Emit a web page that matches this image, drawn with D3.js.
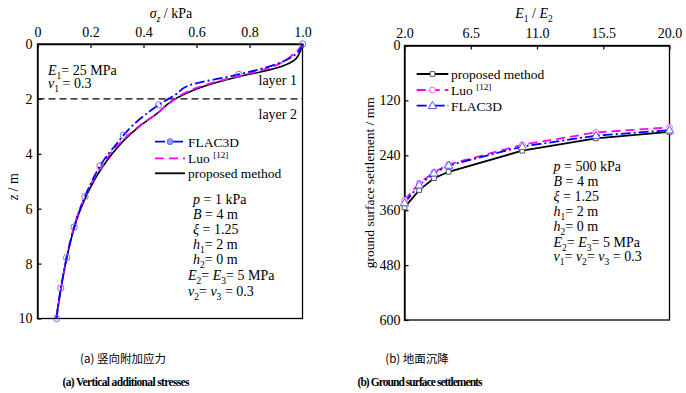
<!DOCTYPE html>
<html>
<head>
<meta charset="utf-8">
<script src="https://cdn.jsdelivr.net/npm/d3@7"></script>
<style>
  body { margin: 0; background: #fff; }
  svg text { font-family: "Liberation Serif", serif; }
</style>
</head>
<body>
<div class="canvas"></div>
<script>
// (a) vertical additional stress sigma_z (kPa) against depth z (m)
const stressTicks = [0, 0.2, 0.4, 0.6, 0.8, 1.0];
const depthTicks = [0, 2, 4, 6, 8, 10];

const propZ = [0, 0.2, 0.4, 0.6, 0.8, 1.0, 1.2, 1.4, 1.6, 1.8, 2.0, 2.2, 2.5, 3.0, 3.5, 4.0, 4.5, 5.0, 6.0, 7.0, 8.0, 9.0, 10.0];
const propS = [1.0, 0.994, 0.985, 0.968, 0.925, 0.85, 0.755, 0.675, 0.61, 0.56, 0.52, 0.49, 0.455, 0.385, 0.327, 0.282, 0.244, 0.212, 0.163, 0.13, 0.106, 0.087, 0.07];

const luoZ = [0, 0.2, 0.4, 0.6, 0.8, 1.0, 1.2, 1.4, 1.6, 1.8, 2.0, 2.2, 2.5, 3.0, 3.5, 4.0, 4.5, 5.0, 6.0, 7.0, 8.0, 9.0, 10.0];
const luoS = [1.0, 0.985, 0.962, 0.935, 0.895, 0.83, 0.745, 0.665, 0.6, 0.553, 0.52, 0.492, 0.455, 0.382, 0.322, 0.275, 0.238, 0.208, 0.16, 0.128, 0.105, 0.087, 0.07];

// FLAC3D output, a marker on every third point
const flacZ = [0, 0.37, 0.74, 1.11, 1.48, 1.85, 2.22, 2.59, 2.96, 3.33, 3.70, 4.07, 4.44, 4.81, 5.19, 5.56, 5.93, 6.30, 6.67, 7.04, 7.41, 7.78, 8.15, 8.52, 8.89, 9.26, 9.63, 10.0];
const flacS = [1.0, 0.975, 0.9, 0.76, 0.58, 0.52, 0.457, 0.405, 0.36, 0.324, 0.293, 0.262, 0.236, 0.215, 0.196, 0.179, 0.164, 0.15, 0.138, 0.128, 0.119, 0.11, 0.102, 0.095, 0.088, 0.082, 0.077, 0.072];

// (b) ground surface settlement (mm) against E1/E2
const ratio = [2, 3, 4, 5, 10, 15, 20];
const settleProp = [354, 316, 290, 276, 230, 203, 189];
const settleLuo = [338, 301, 277, 260, 217, 190, 179];
const settleFlac = [344, 305, 279, 262, 221, 197, 185];
const ratioTicks = [2, 6.5, 11, 15.5, 20];
const settleTicks = [0, 120, 240, 360, 480, 600];

const serif = '"Liberation Serif", serif';

const svg = d3.select('.canvas')
  .append('svg')
    .attr('width', 686)
    .attr('height', 393)
    .attr('font-family', serif);

// text with italic / sub / sup parts: '' plain, 'i' italic, 'b' subscript, 'p' superscript
function rich(g, x, y, parts, size, anchor) {
  const t = g.append('text')
    .attr('x', x).attr('y', y)
    .attr('font-size', size)
    .attr('font-family', serif)
    .attr('text-anchor', anchor || 'start');
  let shift = 0;
  parts.forEach(([s, st]) => {
    const sp = t.append('tspan').text(s);
    let target = 0;
    if (st.includes('b')) target = size * 0.28;
    if (st.includes('p')) target = -size * 0.4;
    if (target !== shift) { sp.attr('dy', target - shift); shift = target; }
    if (st.includes('b') || st.includes('p')) sp.attr('font-size', size * 0.68);
    if (st.includes('i')) sp.attr('font-style', 'italic');
  });
  return t;
}

function styleAxis(a) {
  a.attr('font-family', serif).attr('font-size', 14);
  a.select('.domain').attr('stroke-width', 1.3);
  a.selectAll('.tick line').attr('stroke-width', 1.2);
}

function frame(g, x, y) {
  g.append('rect')
    .attr('x', x.range()[0])
    .attr('y', y.range()[0])
    .attr('width', x.range()[1] - x.range()[0])
    .attr('height', y.range()[1] - y.range()[0])
    .attr('fill', 'none')
    .attr('stroke', '#000')
    .attr('stroke-width', 1.3);
}

// ---------- chart (a) ----------
const xA = d3.scaleLinear().domain([0, 1]).range([37.5, 302.5]);
const yA = d3.scaleLinear().domain([0, 10]).range([44, 318.5]);
const ga = svg.append('g');

frame(ga, xA, yA);

ga.append('g')
  .attr('transform', `translate(0,${yA(0)})`)
  .call(d3.axisTop(xA).tickValues(stressTicks)
    .tickFormat(d => d === 0 ? '0' : d.toFixed(1))
    .tickSizeInner(-4).tickSizeOuter(0).tickPadding(7))
  .call(styleAxis);

ga.append('g')
  .attr('transform', `translate(${xA(0)},0)`)
  .call(d3.axisLeft(yA).tickValues(depthTicks)
    .tickSizeInner(-4).tickSizeOuter(0).tickPadding(5))
  .call(styleAxis);

rich(ga, 171, 18, [['σ', 'i'], ['z', 'ib'], [' / kPa', '']], 14, 'middle');
rich(ga, 0, 0, [['z', 'i'], [' / m', '']], 14, 'middle')
  .attr('transform', `translate(18,${yA(5.2)}) rotate(-90)`);

// layer boundary
ga.append('line')
  .attr('x1', xA(0)).attr('x2', xA(1))
  .attr('y1', yA(2)).attr('y2', yA(2))
  .attr('stroke', '#000').attr('stroke-width', 1.3)
  .attr('stroke-dasharray', '7,4');

ga.append('text').attr('x', 297).attr('y', 85).attr('text-anchor', 'end')
  .attr('font-size', 14).text('layer 1');
ga.append('text').attr('x', 297).attr('y', 119).attr('text-anchor', 'end')
  .attr('font-size', 14).text('layer 2');

rich(ga, 48, 75, [['E', 'i'], ['1', 'b'], ['= 25 MPa', '']], 14);
rich(ga, 48, 88, [['ν', 'i'], ['1', 'b'], [' = 0.3', '']], 14);

const lineA = d3.line()
  .x(d => xA(d[1]))
  .y(d => yA(d[0]))
  .curve(d3.curveMonotoneY);

ga.append('path')
  .datum(d3.zip(propZ, propS))
  .attr('d', lineA)
  .attr('fill', 'none').attr('stroke', '#000').attr('stroke-width', 1.6);

ga.append('path')
  .datum(d3.zip(luoZ, luoS))
  .attr('d', lineA)
  .attr('fill', 'none').attr('stroke', '#ff00ff').attr('stroke-width', 1.8)
  .attr('stroke-dasharray', '9,5');

ga.append('path')
  .datum(d3.zip(flacZ, flacS))
  .attr('d', lineA)
  .attr('fill', 'none').attr('stroke', '#0000ff').attr('stroke-width', 1.8)
  .attr('stroke-dasharray', '10,3,2,3');

ga.selectAll('circle.flac')
  .data(d3.zip(flacZ, flacS).filter((d, i) => i % 3 === 0))
  .enter()
  .append('circle')
    .attr('class', 'flac')
    .attr('cx', d => xA(d[1]))
    .attr('cy', d => yA(d[0]))
    .attr('r', 3.2)
    .attr('fill', 'none')
    .attr('stroke', '#7070ff')
    .attr('stroke-width', 1);

// legend (a)
const legA = [
  { y: 141.7, label: [['FLAC3D', '']], color: '#0000ff', dash: '10,3,2,3', mark: true },
  { y: 158.3, label: [['Luo ', ''], ['[12]', 'p']], color: '#ff00ff', dash: '9,5' },
  { y: 173.3, label: [['proposed method', '']], color: '#000', dash: null }
];
legA.forEach(l => {
  ga.append('line')
    .attr('x1', 155).attr('x2', 185).attr('y1', l.y).attr('y2', l.y)
    .attr('stroke', l.color).attr('stroke-width', 1.8)
    .attr('stroke-dasharray', l.dash);
  if (l.mark) {
    ga.append('circle').attr('cx', 170).attr('cy', l.y).attr('r', 3)
      .attr('fill', '#9090ff').attr('stroke', '#7070ff');
  }
  rich(ga, 188, l.y + 5, l.label, 13.5);
});

const paramsA = [
  [['p', 'i'], [' = 1 kPa', '']],
  [['B', 'i'], [' = 4 m', '']],
  [['ξ', 'i'], [' = 1.25', '']],
  [['h', 'i'], ['1', 'b'], ['= 2 m', '']],
  [['h', 'i'], ['2', 'b'], ['= 0 m', '']],
  [['E', 'i'], ['2', 'b'], ['= ', ''], ['E', 'i'], ['3', 'b'], ['= 5 MPa', '']],
  [['ν', 'i'], ['2', 'b'], ['= ', ''], ['ν', 'i'], ['3', 'b'], [' = 0.3', '']]
];
const paramsAY = [204, 219, 234, 249, 264, 280, 296];
paramsA.forEach((p, i) => rich(ga, i >= 5 ? 188 : 193, paramsAY[i], p, 14));

// ---------- chart (b) ----------
const xB = d3.scaleLinear().domain([2, 20]).range([404.5, 669.5]);
const yB = d3.scaleLinear().domain([0, 600]).range([45.5, 320]);
const gb = svg.append('g');

frame(gb, xB, yB);

gb.append('g')
  .attr('transform', `translate(0,${yB(0)})`)
  .call(d3.axisTop(xB).tickValues(ratioTicks)
    .tickFormat(d3.format('.1f'))
    .tickSizeInner(-4).tickSizeOuter(0).tickPadding(8))
  .call(styleAxis);

gb.append('g')
  .attr('transform', `translate(${xB(2)},0)`)
  .call(d3.axisLeft(yB).tickValues(settleTicks)
    .tickSizeInner(-4).tickSizeOuter(0).tickPadding(4))
  .call(styleAxis);

rich(gb, 534, 18, [['E', 'i'], ['1', 'b'], [' / ', ''], ['E', 'i'], ['2', 'b']], 14, 'middle');
gb.append('text')
  .attr('transform', `translate(374,${yB(300)}) rotate(-90)`)
  .attr('text-anchor', 'middle')
  .attr('font-size', 13.5)
  .text('ground surface settlement / mm');

const lineB = d3.line()
  .x(d => xB(d[0]))
  .y(d => yB(d[1]));

const seriesB = [
  { vals: settleProp, color: '#000', dash: null, shape: 'square', mcolor: '#555' },
  { vals: settleLuo, color: '#ff00ff', dash: '9,5', shape: 'circle', mcolor: '#ff55ff' },
  { vals: settleFlac, color: '#0000ff', dash: '10,3,2,3', shape: 'triangle', mcolor: '#5555ff' }
];

function marker(g, shape, x, y, color) {
  const sym = shape === 'square' ? d3.symbolSquare : shape === 'circle' ? d3.symbolCircle : d3.symbolTriangle;
  const size = shape === 'triangle' ? 30 : shape === 'square' ? 22 : 26;
  g.append('path')
    .attr('d', d3.symbol().type(sym).size(size)())
    .attr('transform', `translate(${x},${y + (shape === 'triangle' ? 0.5 : 0)})`)
    .attr('fill', '#fff')
    .attr('stroke', color)
    .attr('stroke-width', 1);
}

seriesB.forEach(s => {
  gb.append('path')
    .datum(d3.zip(ratio, s.vals))
    .attr('d', lineB)
    .attr('fill', 'none')
    .attr('stroke', s.color)
    .attr('stroke-width', 1.8)
    .attr('stroke-dasharray', s.dash);
});
seriesB.forEach(s => {
  d3.zip(ratio, s.vals).forEach(d => marker(gb, s.shape, xB(d[0]), yB(d[1]), s.mcolor));
});

// legend (b)
const legB = [
  { y: 74, label: [['proposed method', '']] },
  { y: 90, label: [['Luo ', ''], ['[12]', 'p']] },
  { y: 105.7, label: [['FLAC3D', '']] }
];
legB.forEach((l, i) => {
  const s = seriesB[i];
  gb.append('line')
    .attr('x1', 416.7).attr('x2', 448.3).attr('y1', l.y).attr('y2', l.y)
    .attr('stroke', s.color).attr('stroke-width', 1.8)
    .attr('stroke-dasharray', s.dash);
  marker(gb, s.shape, 432.5, l.y, s.mcolor);
  rich(gb, 451, l.y + 5, l.label, 13.5);
});

const paramsB = [
  [['p', 'i'], [' = 500 kPa', '']],
  [['B', 'i'], [' = 4 m', '']],
  [['ξ', 'i'], [' = 1.25', '']],
  [['h', 'i'], ['1', 'b'], ['= 2 m', '']],
  [['h', 'i'], ['2', 'b'], ['= 0 m', '']],
  [['E', 'i'], ['2', 'b'], ['= ', ''], ['E', 'i'], ['3', 'b'], ['= 5 MPa', '']],
  [['ν', 'i'], ['1', 'b'], ['= ', ''], ['ν', 'i'], ['2', 'b'], ['= ', ''], ['ν', 'i'], ['3', 'b'], [' = 0.3', '']]
];
const paramsBY = [171, 186, 201, 216, 231, 247, 261];
paramsB.forEach((p, i) => rich(gb, 553.5, paramsBY[i], p, 14));

// ---------- captions ----------
const captions = [
  { x: 123, zh: '(a) 竖向附加应力', en: '(a) Vertical additional stresses' },
  { x: 417, zh: '(b) 地面沉降', en: '(b) Ground surface settlements' }
];
captions.forEach(c => {
  svg.append('text')
    .attr('x', c.x).attr('y', 363)
    .attr('text-anchor', 'middle')
    .style('font-family', '"Noto Sans CJK SC", sans-serif')
    .attr('font-size', 11.5)
    .text(c.zh);
  svg.append('text')
    .attr('x', c.x + 3).attr('y', 386)
    .attr('text-anchor', 'middle')
    .attr('font-size', 11.5)
    .attr('font-weight', 'bold')
    .attr('textLength', c.x < 200 ? 127 : 125)
    .text(c.en);
});
</script>
</body>
</html>
